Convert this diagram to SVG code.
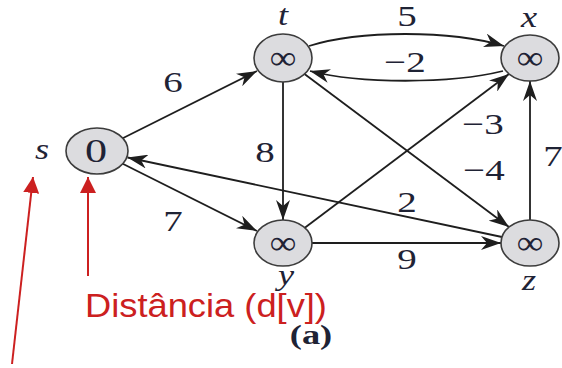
<svg xmlns="http://www.w3.org/2000/svg" width="562" height="368" viewBox="0 0 562 368">
<defs>
<marker id="ah" markerUnits="userSpaceOnUse" markerWidth="20" markerHeight="14" refX="20" refY="7" orient="auto"><path d="M0,0 L20,7 L0,14 L6,7 z" fill="#1e1e1e"/></marker>
<marker id="rh" markerUnits="userSpaceOnUse" markerWidth="16" markerHeight="16" refX="16" refY="8" orient="auto"><path d="M0,0 L16,8 L0,16 z" fill="#cc2020"/></marker>
</defs>
<style>
.node{fill:#dcdcdf;stroke:#3c3c3c;stroke-width:1.6}
.edge{fill:none;stroke:#1e1e1e;stroke-width:1.8;marker-end:url(#ah)}
.val{font-family:"Liberation Serif",serif;font-size:34px;fill:#1f2335;text-anchor:middle}
.inf{font-family:"Liberation Serif","DejaVu Serif",serif;font-size:34px;fill:#1f2335;text-anchor:middle}
.nm{font-family:"Liberation Serif",serif;font-style:italic;font-size:29px;fill:#1f2335;text-anchor:middle}
.w{font-family:"Liberation Serif",serif;font-size:30px;fill:#1f2335;text-anchor:middle}
.red{stroke:#cc2020;stroke-width:2;fill:none;marker-end:url(#rh)}
</style>
<rect width="562" height="368" fill="#ffffff"/>
<g id="connectors">
<line class="edge" x1="122.7" y1="138.2" x2="257" y2="71"/>
<line class="edge" x1="122.7" y1="163.8" x2="257" y2="231"/>
<line class="edge" x1="283" y1="82" x2="283" y2="220"/>
<line class="edge" x1="530" y1="220" x2="530" y2="81"/>
<line class="edge" x1="312" y1="243" x2="501" y2="243"/>
<line class="edge" x1="304.5" y1="74" x2="509" y2="227"/>
<line class="edge" x1="304.5" y1="228" x2="509" y2="74"/>
<line class="edge" x1="502" y1="237" x2="127.5" y2="157.5"/>
<path class="edge" d="M309,46 C360,30 450,30 504,46"/>
<path class="edge" d="M503,71 C450,84 360,84 310,71"/>
<text class="w" transform="translate(173,92) scale(1.3,1)">6</text>
<text class="w" transform="translate(173,231) scale(1.3,1)">7</text>
<text class="w" transform="translate(265,162) scale(1.3,1)">8</text>
<text class="w" transform="translate(407,26) scale(1.3,1)" font-size="29">5</text>
<text class="w" transform="translate(405,72) scale(1.3,1)">−2</text>
<text class="w" transform="translate(483,134) scale(1.3,1)">−3</text>
<text class="w" transform="translate(484,180) scale(1.3,1)">−4</text>
<text class="w" transform="translate(553,166) scale(1.3,1)">7</text>
<text class="w" transform="translate(407,212) scale(1.3,1)">2</text>
<text class="w" transform="translate(407,269) scale(1.3,1)">9</text>
</g>
<g id="s"><ellipse class="node" cx="97" cy="151" rx="31" ry="23"/><text class="val" transform="translate(96,162) scale(1.3,1)">0</text><text class="nm" transform="translate(42,159) scale(1.25,1)">s</text></g>
<g id="t"><ellipse class="node" cx="283" cy="58" rx="29" ry="24"/><text class="inf" transform="translate(283,69) scale(1.1,1)">∞</text><text class="nm" transform="translate(283,25) scale(1.25,1)">t</text></g>
<g id="x"><ellipse class="node" cx="530" cy="58" rx="29" ry="23"/><text class="inf" transform="translate(530,69) scale(1.1,1)">∞</text><text class="nm" transform="translate(529,27) scale(1.25,1)">x</text></g>
<g id="y"><ellipse class="node" cx="283" cy="243" rx="29" ry="23"/><text class="inf" transform="translate(283,254) scale(1.1,1)">∞</text><text class="nm" transform="translate(286,285) scale(1.25,1)">y</text></g>
<g id="z"><ellipse class="node" cx="530" cy="243" rx="29" ry="23"/><text class="inf" transform="translate(530,254) scale(1.1,1)">∞</text><text class="nm" transform="translate(529,290) scale(1.25,1)">z</text></g>
<text transform="translate(311,344) scale(1.3,1)" font-family="Liberation Serif,serif" font-weight="bold" font-size="28" fill="#1f2335" text-anchor="middle">(a)</text>
<g id="annotation">
<line class="red" x1="12" y1="364" x2="33" y2="177"/>
<line class="red" x1="88" y1="276" x2="88" y2="177"/>
<text transform="translate(85,317) scale(1.1,1)" font-family="Liberation Sans,sans-serif" font-size="33" fill="#cc2020">Distância (d[v])</text>
</g>
</svg>
